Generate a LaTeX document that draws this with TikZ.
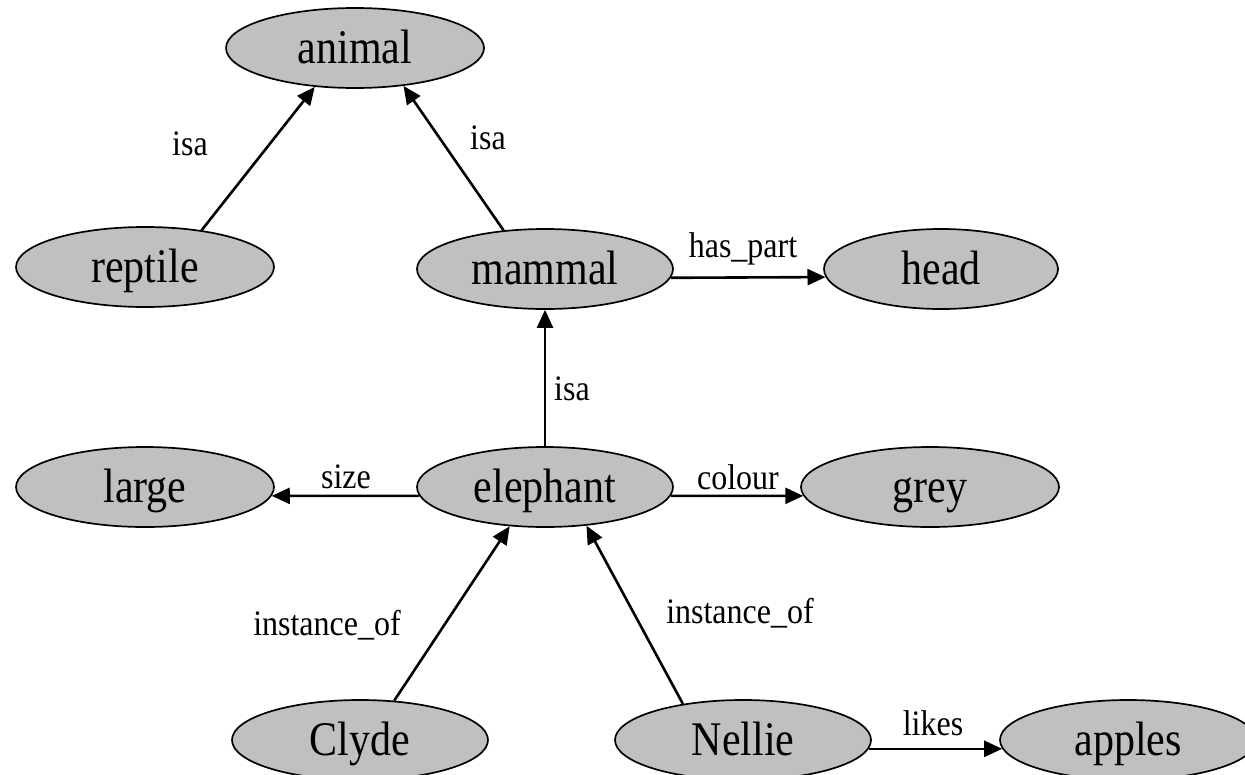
\documentclass[tikz,border=0pt]{standalone}
\usepackage{fontspec}
\setmainfont{Liberation Serif}
\usetikzlibrary{shapes.geometric,arrows.meta}
\newcommand{\tallnode}[1]{\scalebox{1}[1.15]{#1}}
\newcommand{\talllbl}[1]{\scalebox{1}[1.12]{#1}}
\tikzset{
  concept/.style={ellipse, draw=black, line width=1.7pt, fill={rgb,255:red,192;green,192;blue,192},
    inner sep=0pt, minimum width=256pt, minimum height=80pt,
    text height=31pt, text depth=0pt,
    font=\fontsize{42}{48}\selectfont},
  lbl/.style={inner sep=0pt, anchor=base, font=\fontsize{32}{38}\selectfont},
  rel/.style={draw=black, line width=2.6pt, -{Triangle[length=18pt,width=16pt]}}
}
\begin{document}
\begin{tikzpicture}[x=1pt,y=-1pt]
\useasboundingbox (0,0) rectangle (1245,774);
% nodes
\node[concept, minimum width=258pt] (animal) at (355,48) {\tallnode{animal}};
\node[concept, minimum width=258pt] (reptile) at (145,267) {\tallnode{reptile}};
\node[concept] (mammal) at (545,269) {\tallnode{mammal}};
\node[concept, minimum width=234pt] (head) at (941,269) {\tallnode{head}};
\node[concept, minimum width=258pt] (large) at (145,487) {\tallnode{large}};
\node[concept] (elephant) at (545,487) {\tallnode{elephant}};
\node[concept, minimum width=258pt] (grey) at (930,487) {\tallnode{grey}};
\node[concept] (clyde) at (360,740) {\tallnode{Clyde}};
\node[concept] (nellie) at (743,740) {\tallnode{Nellie}};
\node[concept] (apples) at (1128,740) {\tallnode{apples}};
% connectors
\draw[rel] (reptile.33) -- (animal.-136);
\draw[rel] (mammal.137) -- (animal.-38);
\draw[rel] (elephant.90) -- (mammal.-90);
\draw[rel] (mammal.-4) -- (head.184);
\draw[rel] (elephant.184) -- (large.-4);
\draw[rel] (elephant.-4) -- (grey.184);
\draw[rel] (clyde.49) -- (elephant.-132);
\draw[rel] (nellie.149) -- (elephant.-43);
\draw[rel] (nellie.-4) -- (apples.184);
% labels
\node[lbl] (l1) at (190,155) {\talllbl{isa}};
\node[lbl] (l2) at (488,149) {\talllbl{isa}};
\node[lbl] (l3) at (572,400) {\talllbl{isa}};
\node[lbl] (l4) at (743,257) {\talllbl{has\_part}};
\node[lbl] (l5) at (346,488) {\talllbl{size}};
\node[lbl] (l6) at (738,489) {\talllbl{colour}};
\node[lbl] (l7) at (327,635) {\talllbl{instance\_of}};
\node[lbl] (l8) at (740,623) {\talllbl{instance\_of}};
\node[lbl] (l9) at (933,735) {\talllbl{likes}};
\end{tikzpicture}
\end{document}
